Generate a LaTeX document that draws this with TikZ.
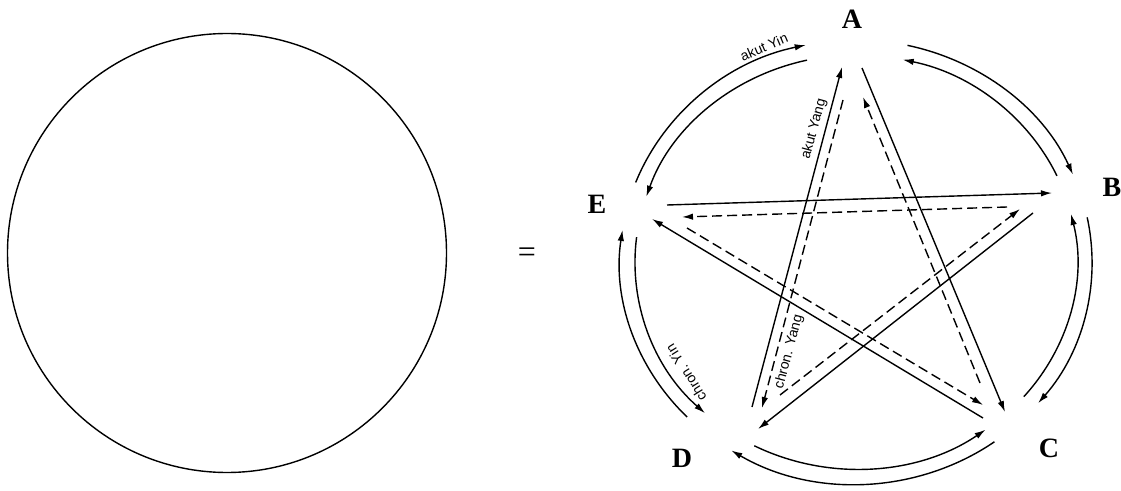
\documentclass[tikz,border=0pt]{standalone}
\usepackage{fontspec}
\setmainfont{Liberation Serif}
\newfontfamily\labfont{Liberation Sans}
\usetikzlibrary{arrows.meta,calc}
\tikzset{
  ln/.style={line width=1.4pt},
  arr/.style={ln,-{Latex[length=11pt,width=6.5pt]}},
  darr/.style={arr,dash pattern=on 10pt off 5pt},
  vtx/.style={font=\bfseries\fontsize{28}{30}\selectfont, inner sep=0pt},
  lab/.style={font=\labfont\fontsize{14}{15}\selectfont, inner sep=0pt},
  oarc/.style={x radius=236pt, y radius=222pt},
  iarc/.style={x radius=221pt, y radius=207pt},
}
\begin{document}
\begin{tikzpicture}[x=1pt,y=1pt]
\useasboundingbox (0,0) rectangle (1121,490);
% left circle
\coordinate (L) at (227,237);
\draw[line width=1.4pt] (L) circle[radius=219.5pt];
\node[font=\fontsize{32}{34}\selectfont, inner sep=0pt] (eq) at (527,235) {=};
% vertex labels
\node[vtx] (A) at (852,471) {A};
\node[vtx] (B) at (1112,303) {B};
\node[vtx] (C) at (1049,42) {C};
\node[vtx] (D) at (682,32) {D};
\node[vtx] (E) at (597,286) {E};
% pentagram endpoints
\coordinate (a1) at (862,422); \coordinate (c1) at (1005,78);
\coordinate (c2) at (980,107); \coordinate (a2) at (863,393);
\coordinate (e1) at (687,262); \coordinate (c3) at (983,85);
\coordinate (c4) at (983,72);  \coordinate (e2) at (652,271);
\coordinate (e3) at (667,285); \coordinate (b1) at (1052,297);
\coordinate (b2) at (1007,283); \coordinate (e4) at (682,273);
\coordinate (d1) at (780,95);  \coordinate (b3) at (1020,281);
\coordinate (b4) at (1033,277); \coordinate (d2) at (758,61);
\coordinate (d3) at (752,83);  \coordinate (a3) at (842,423);
\coordinate (a4) at (843,390); \coordinate (d4) at (762,82);
\draw[arr]  (a1) -- (c1);
\draw[darr] (c2) -- (a2);
\draw[darr] (e1) -- (c3);
\draw[arr]  (c4) -- (e2);
\draw[arr]  (e3) -- (b1);
\draw[darr] (b2) -- (e4);
\draw[darr] (d1) -- (b3);
\draw[arr]  (b4) -- (d2);
\draw[arr]  (d3) -- (a3);
\draw[darr] (a4) -- (d4);
% outer circle arcs (clockwise)
\coordinate (O) at (856,228);
\draw[arr] ($(O)+(159:236pt and 222pt)$) arc[start angle=159,end angle=102.3,oarc];
\draw[arr] ($(O)+(77.4:236pt and 222pt)$) arc[start angle=77.4,end angle=23.2,oarc];
\draw[arr] ($(O)+(11.6:236pt and 222pt)$) arc[start angle=11.6,end angle=-39.5,oarc];
\draw[arr] ($(O)+(-54.1:236pt and 222pt)$) arc[start angle=-54.1,end angle=-121.9,oarc];
\draw[arr] ($(O)+(224.3:236pt and 222pt)$) arc[start angle=224.3,end angle=171.7,oarc];
% inner arcs (counterclockwise)
\draw[arr] ($(O)+(102.8:221pt and 207pt)$) arc[start angle=102.8,end angle=161.6,iarc];
\draw[arr] ($(O)+(24.6:221pt and 207pt)$) arc[start angle=24.6,end angle=77.8,iarc];
\draw[arr] ($(O)+(-40.6:221pt and 207pt)$) arc[start angle=-40.6,end angle=13.4,iarc];
\draw[arr] ($(O)+(-117.4:221pt and 207pt)$) arc[start angle=-117.4,end angle=-54.1,iarc];
\draw[arr] ($(O)+(173.1:221pt and 207pt)$) arc[start angle=173.1,end angle=226.9,iarc];
% labels
\node[lab, rotate=23] (ayin) at (764,443) {akut Yin};
\node[lab, rotate=75] (ayang) at (814,361) {akut Yang};
\node[lab, rotate=75] (cyang) at (789,138) {chron. Yang};
\node[lab, rotate=122] (cyin) at (686,117) {chron. Yin};
\end{tikzpicture}
\end{document}
